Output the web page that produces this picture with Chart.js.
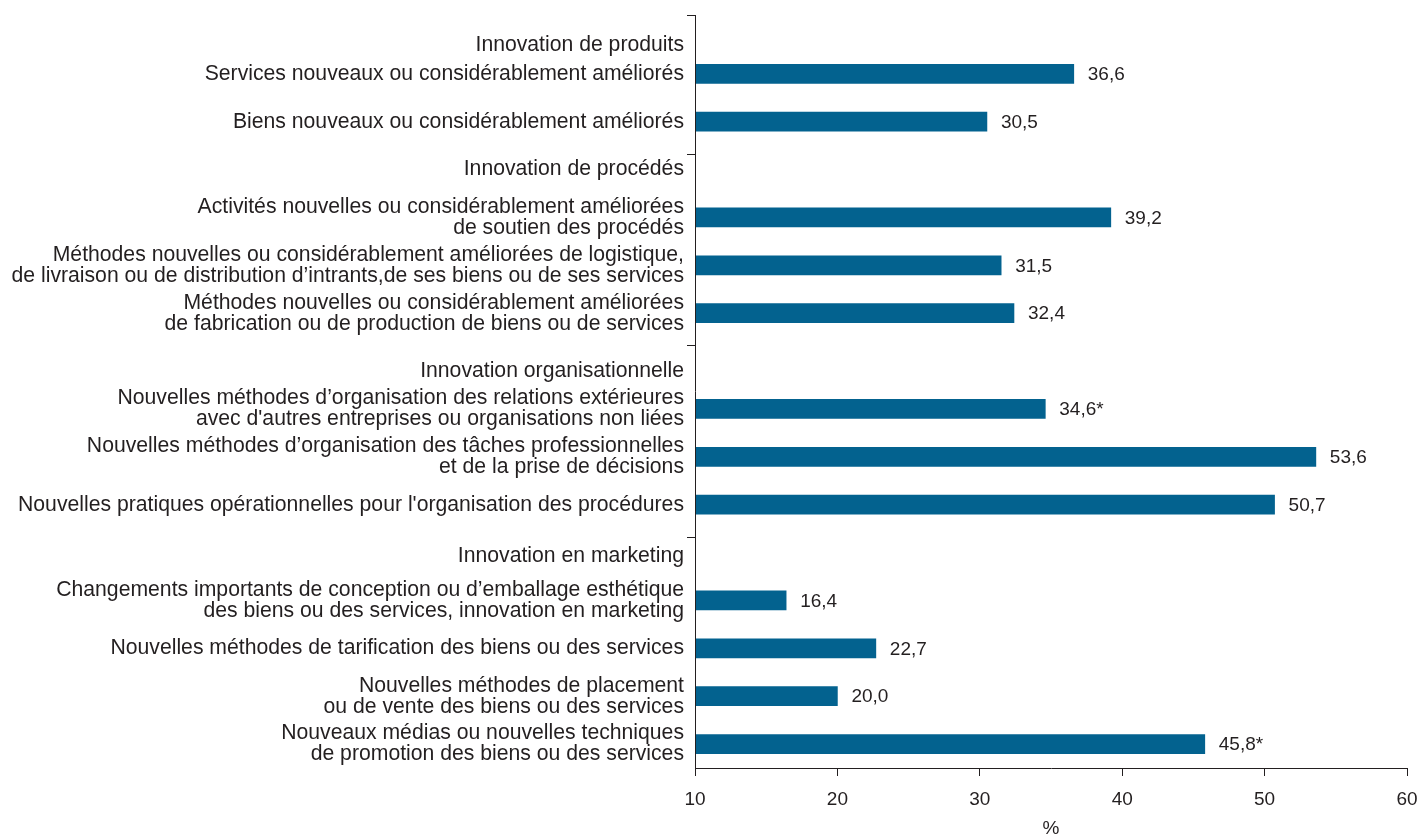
<!DOCTYPE html>
<html>
<head>
  <title>Innovation</title>
  <script src="https://cdn.jsdelivr.net/npm/chart.js"></script>
  <style>
    body { margin: 0; background: #fff; }
    canvas { display: block; }
  </style>
</head>
<body>
  <canvas id="innovChart" width="1421" height="836"></canvas>

  <script>
    // group headings
    const groups = [
      "Innovation de produits",
      "Innovation de procédés",
      "Innovation organisationnelle",
      "Innovation en marketing"
    ];

    // category labels (lines), which group each belongs to
    const categories = [
      ["Services nouveaux ou considérablement améliorés"],
      ["Biens nouveaux ou considérablement améliorés"],
      ["Activités nouvelles ou considérablement améliorées", "de soutien des procédés"],
      ["Méthodes nouvelles ou considérablement améliorées de logistique,", "de livraison ou de distribution d’intrants,de ses biens ou de ses services"],
      ["Méthodes nouvelles ou considérablement améliorées", "de fabrication ou de production de biens ou de services"],
      ["Nouvelles méthodes d’organisation des relations extérieures", "avec d'autres entreprises ou organisations non liées"],
      ["Nouvelles méthodes d’organisation des tâches professionnelles", "et de la prise de décisions"],
      ["Nouvelles pratiques opérationnelles pour l'organisation des procédures"],
      ["Changements importants de conception ou d’emballage esthétique", "des biens ou des services, innovation en marketing"],
      ["Nouvelles méthodes de tarification des biens ou des services"],
      ["Nouvelles méthodes de placement", "ou de vente des biens ou des services"],
      ["Nouveaux médias ou nouvelles techniques", "de promotion des biens ou des services"]
    ];
    const groupOf = [0, 0, 1, 1, 1, 2, 2, 2, 3, 3, 3, 3];

    const values = [36.6, 30.5, 39.2, 31.5, 32.4, 34.6, 53.6, 50.7, 16.4, 22.7, 20.0, 45.8];
    const notes  = ["", "", "", "", "", "*", "", "", "", "", "", "*"];

    const xTicks = [10, 20, 30, 40, 50, 60];

    // build rows: a heading row (no bar) before each group
    const rows = [];
    categories.forEach((lines, i) => {
      if (i === 0 || groupOf[i] !== groupOf[i - 1]) {
        rows.push({ header: groups[groupOf[i]], lines: [groups[groupOf[i]]], value: null, note: "" });
      }
      rows.push({ header: null, lines: lines, value: values[i], note: notes[i] });
    });

    const FONT = '"Liberation Sans", Arial, sans-serif';
    const TEXT = "#231f20";

    const rowLabels = {
      id: "rowLabels",
      afterDraw(chart) {
        const ctx = chart.ctx;
        const yScale = chart.scales.y;
        const xScale = chart.scales.x;
        const area = chart.chartArea;
        const axisX = area.left;
        // headings sit a little below their slot
        const headShift = [19, 0, 10, 4];
        ctx.save();
        ctx.fillStyle = TEXT;
        ctx.textBaseline = "middle";

        let h = 0;
        const groupTicks = [15];
        rows.forEach((row, i) => {
          let y = yScale.getPixelForValue(i);
          if (row.header) {
            if (h > 0) groupTicks.push(yScale.getPixelForValue(i - 1) + 32);
            y += headShift[h];
            h++;
          }
          // left labels
          ctx.font = "21.2px " + FONT;
          ctx.textAlign = "right";
          const lh = 21;
          const n = row.lines.length;
          row.lines.forEach((line, k) => {
            ctx.fillText(line, axisX - 11, y + (k - (n - 1) / 2) * lh);
          });
          // value labels
          if (row.value !== null) {
            const xEnd = xScale.getPixelForValue(row.value);
            ctx.font = "19px " + FONT;
            ctx.textAlign = "left";
            ctx.fillText(row.value.toFixed(1).replace(".", ",") + row.note, xEnd + 14, y + 1);
          }
        });

        // y axis line with group separators
        ctx.strokeStyle = "#231f20";
        ctx.lineWidth = 1;
        ctx.beginPath();
        ctx.moveTo(axisX + 0.5, 15);
        ctx.lineTo(axisX + 0.5, area.bottom);
        groupTicks.forEach(t => {
          ctx.moveTo(axisX - 8, Math.round(t) + 0.5);
          ctx.lineTo(axisX + 0.5, Math.round(t) + 0.5);
        });
        ctx.stroke();
        ctx.restore();
      }
    };

    new Chart(document.getElementById("innovChart"), {
      type: "bar",
      data: {
        labels: rows.map(r => r.lines.join(" ")),
        datasets: [{
          data: rows.map(r => r.value),
          backgroundColor: "#03628f",
          barThickness: 19
        }]
      },
      options: {
        indexAxis: "y",
        responsive: false,
        animation: false,
        layout: { padding: { left: 695, right: 14, top: 2 } },
        plugins: {
          legend: { display: false },
          tooltip: { enabled: false }
        },
        scales: {
          y: { display: false },
          x: {
            min: 10,
            max: 60,
            afterBuildTicks: s => { s.ticks = xTicks.map(v => ({ value: v })); },
            afterFit: s => { s.height = 68; s.paddingRight = 14; },
            ticks: {
              color: TEXT,
              font: { family: FONT, size: 19 },
              padding: 12
            },
            grid: {
              drawOnChartArea: false,
              tickLength: 8,
              color: "#231f20"
            },
            border: { color: "#231f20", width: 1 },
            title: {
              display: true,
              text: "%",
              color: TEXT,
              font: { family: FONT, size: 19 },
              padding: { top: 3, bottom: -4 }
            }
          }
        }
      },
      plugins: [rowLabels]
    });
  </script>
</body>
</html>
